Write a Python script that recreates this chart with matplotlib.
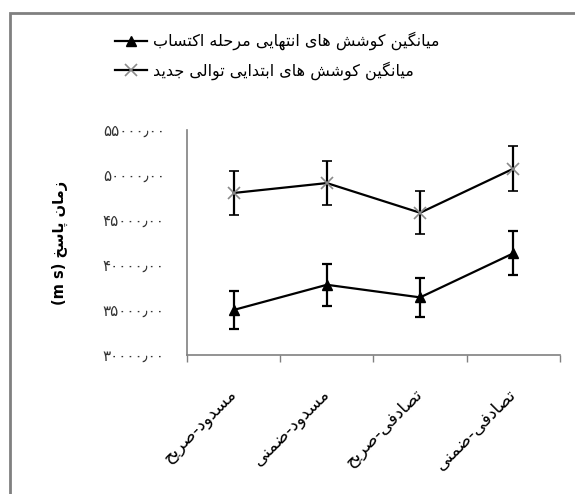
import numpy as np
import matplotlib
matplotlib.use('Agg')
import matplotlib.pyplot as plt
from matplotlib.patches import Rectangle
from matplotlib.lines import Line2D

# data
categories = ['مسدود-صریح', 'مسدود-ضمنی', 'تصادفی-صریح', 'تصادفی-ضمنی']
acq_mean = [35000, 37800, 36400, 41300]
acq_err = [2100, 2350, 2200, 2450]
new_mean = [48000, 49100, 45800, 50700]
new_err = [2450, 2450, 2400, 2500]
yticks = [30000, 35000, 40000, 45000, 50000, 55000]
ytick_labels = ['۳۰۰۰۰٫۰۰', '۳۵۰۰۰٫۰۰', '۴۰۰۰۰٫۰۰', '۴۵۰۰۰٫۰۰', '۵۰۰۰۰٫۰۰', '۵۵۰۰۰٫۰۰']
label_acq = 'میانگین کوشش های انتهایی مرحله اکتساب'
label_new = 'میانگین کوشش های ابتدایی توالی جدید'
ylabel = 'زمان پاسخ'

# matplotlib does no arabic shaping, so pick the contextual forms by hand
# (isolated, final, initial, medial)
FORMS = {
    'ا': ('\uFE8D', '\uFE8E', None, None),
    'ب': ('\uFE8F', '\uFE90', '\uFE91', '\uFE92'),
    'ت': ('\uFE95', '\uFE96', '\uFE97', '\uFE98'),
    'ج': ('\uFE9D', '\uFE9E', '\uFE9F', '\uFEA0'),
    'ح': ('\uFEA1', '\uFEA2', '\uFEA3', '\uFEA4'),
    'خ': ('\uFEA5', '\uFEA6', '\uFEA7', '\uFEA8'),
    'د': ('\uFEA9', '\uFEAA', None, None),
    'ر': ('\uFEAD', '\uFEAE', None, None),
    'ز': ('\uFEAF', '\uFEB0', None, None),
    'س': ('\uFEB1', '\uFEB2', '\uFEB3', '\uFEB4'),
    'ش': ('\uFEB5', '\uFEB6', '\uFEB7', '\uFEB8'),
    'ص': ('\uFEB9', '\uFEBA', '\uFEBB', '\uFEBC'),
    'ض': ('\uFEBD', '\uFEBE', '\uFEBF', '\uFEC0'),
    'ف': ('\uFED1', '\uFED2', '\uFED3', '\uFED4'),
    'ل': ('\uFEDD', '\uFEDE', '\uFEDF', '\uFEE0'),
    'م': ('\uFEE1', '\uFEE2', '\uFEE3', '\uFEE4'),
    'ن': ('\uFEE5', '\uFEE6', '\uFEE7', '\uFEE8'),
    'ه': ('\uFEE9', '\uFEEA', '\uFEEB', '\uFEEC'),
    'و': ('\uFEED', '\uFEEE', None, None),
    'ی': ('\uFBFC', '\uFBFD', '\uFBFE', '\uFBFF'),
    'ک': ('\uFB8E', '\uFB8F', '\uFB90', '\uFB91'),
    'گ': ('\uFB92', '\uFB93', '\uFB94', '\uFB95'),
    'پ': ('\uFB56', '\uFB57', '\uFB58', '\uFB59'),
}


def rtl(s):
    out = []
    for i, c in enumerate(s):
        if c not in FORMS:
            out.append(c)
            continue
        f = FORMS[c]
        prev = s[i - 1] if i > 0 else ''
        nxt = s[i + 1] if i + 1 < len(s) else ''
        jp = prev in FORMS and FORMS[prev][2] is not None
        jn = f[2] is not None and nxt in FORMS
        idx = 3 if (jp and jn) else 1 if jp else 2 if jn else 0
        out.append(f[idx])
    return ''.join(out)[::-1]


plt.rcParams['font.family'] = ['DejaVu Sans']

fig = plt.figure(figsize=(5.75, 4.94), dpi=100)
ax = fig.add_axes([0.3252, 0.2814, 0.6487, 0.4555])

x = np.arange(len(categories))
ax.errorbar(x, acq_mean, yerr=acq_err, color='black', lw=1.6, marker='^',
            ms=7, mfc='black', mec='black', ecolor='black', elinewidth=1.6,
            capsize=3.5, capthick=1.6, zorder=3)
ax.errorbar(x, new_mean, yerr=new_err, color='black', lw=1.6, marker='x',
            ms=8, mec='#8a8a8a', mew=1.2, ecolor='black', elinewidth=1.6,
            capsize=3.5, capthick=1.6, zorder=3)

ax.set_xlim(-0.5, len(categories) - 0.5)
ax.set_ylim(30000, 55000)
ax.set_yticks(yticks)
ax.set_yticklabels(ytick_labels, fontsize=11, color='#333333')
ax.tick_params(axis='y', length=0, pad=16)

ax.set_xticks(x)
ax.set_xticklabels([rtl(c) for c in categories], rotation=45, ha='right',
                   va='center', rotation_mode='anchor', fontsize=12.5)
ax.tick_params(axis='x', which='major', length=0, pad=26)
ax.set_xticks(np.arange(-0.5, len(categories)), minor=True)
ax.tick_params(axis='x', which='minor', length=5, color='#808080', width=1)

for side in ['top', 'right']:
    ax.spines[side].set_visible(False)
for side in ['left', 'bottom']:
    ax.spines[side].set_color('#808080')
    ax.spines[side].set_linewidth(1.2)

ax.set_ylabel('(m s) ' + rtl(ylabel), fontsize=10.5, fontweight='bold')
ax.yaxis.set_label_coords(-0.32, 0.5)

handles = [
    Line2D([], [], color='black', lw=1.6, marker='^', ms=7, mfc='black', mec='black'),
    Line2D([], [], color='black', lw=1.6, marker='x', ms=8, mec='#8a8a8a', mew=1.2),
]
fig.legend(handles, [rtl(label_acq), rtl(label_new)], loc='center',
           bbox_to_anchor=(277 / 575, 1 - 56 / 494), frameon=False,
           fontsize=11.5, handlelength=2.0, labelspacing=0.7, handletextpad=0.4)

# grey outer frame, cut off by the right and bottom edges
fig.patches.append(Rectangle((10 / 575, -0.1), 1.2, 0.1 + 1 - 13 / 494,
                             transform=fig.transFigure, fill=False,
                             edgecolor='#808080', lw=2))

fig.savefig('out.png', dpi=100)
